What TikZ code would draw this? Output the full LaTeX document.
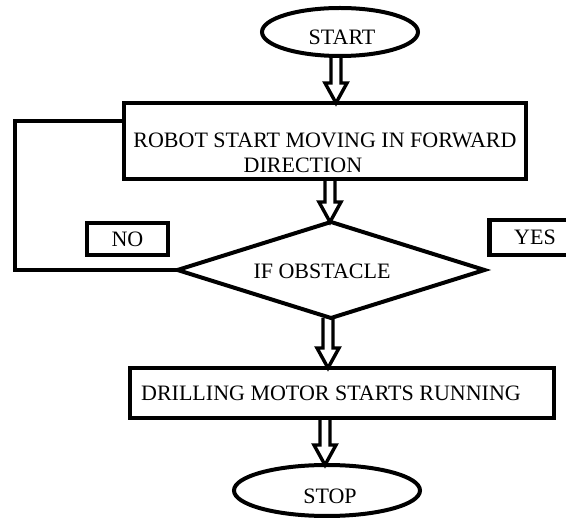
\documentclass[tikz,border=0pt]{standalone}
\usepackage{fontspec}
\setmainfont{Liberation Serif}
\usetikzlibrary{shapes.geometric,calc}
\newcommand\flowarrow[3]{%
  \draw[blockarrow] let \p1=(#1), \p2=(#2) in
    (\x1+#3-5pt,\y1) -- (\x1+#3-5pt,\y2+20pt) -- (\x1+#3-11pt,\y2+20pt)
    -- (\x1+#3,\y2) -- (\x1+#3+11pt,\y2+20pt) -- (\x1+#3+5pt,\y2+20pt)
    -- (\x1+#3+5pt,\y1);}
\begin{document}
\begin{tikzpicture}[x=1pt,y=-1pt,
  every node/.style={font=\fontsize{22}{25}\selectfont, inner sep=0pt, outer sep=0pt},
  terminal/.style={ellipse, draw, line width=4pt},
  procbox/.style={rectangle, draw, line width=4.4pt},
  labelbox/.style={rectangle, draw, line width=4.2pt},
  decision/.style={diamond, draw, line width=4pt, aspect=3.2},
  loopline/.style={line width=4.2pt},
  blockarrow/.style={line width=3.4pt, line join=miter}]
\useasboundingbox (0,0) rectangle (566,521);
\clip (0,0) rectangle (566,521);

\node[terminal, minimum width=156pt, minimum height=48pt, text height=26pt, text depth=0pt] (start) at (340,32) {\rule{4pt}{0pt}START};
\node[procbox, minimum width=402pt, minimum height=76pt] (robot) at (325,141) {};
\node[align=center, anchor=north] (robottxt) at (325,133) {ROBOT START MOVING IN FORWARD\\DIRECTION\rule{44pt}{0pt}};
\node[decision, minimum width=307pt, minimum height=96pt, text height=18pt, text depth=0pt] (cond) at (331,270) {IF OBSTACLE\rule{18pt}{0pt}};
\node[labelbox, minimum width=81pt, minimum height=32pt] (no) at (127.5,239) {NO};
\node[labelbox, minimum width=91pt, minimum height=35pt] (yes) at (535,237.5) {YES};
\node[procbox, minimum width=424pt, minimum height=50pt] (drill) at (342,393) {DRILLING MOTOR STARTS RUNNING\rule{22pt}{0pt}};
\node[terminal, minimum width=186pt, minimum height=51pt, text height=27pt, text depth=0pt] (stop) at (327,490.5) {\rule{6pt}{0pt}STOP};

\flowarrow{start.south}{robot.north}{-4pt}
\flowarrow{robot.south}{cond.north}{5pt}
\flowarrow{cond.south}{drill.north}{-3pt}
\flowarrow{drill.south}{stop.north}{-17pt}

\draw[loopline] ([yshift=20pt]robot.west) -- ++(-109pt,0) |- (cond.west);
\end{tikzpicture}
\end{document}
